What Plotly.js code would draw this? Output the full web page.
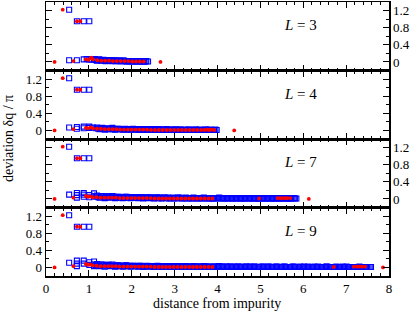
<!DOCTYPE html>
<html><head><meta charset="utf-8">
<script src="https://cdn.plot.ly/plotly-3.0.1.min.js"></script>
<style>body{margin:0;background:#fff}#chart{width:415px;height:312px}</style>
</head><body><div id="chart"></div>
<script>
// Panel labels (system size L)
const panelL = ['3', '4', '7', '9'];

// ---- L = 3 ----
const xB3 = [0.54,0.72,0.88,1.01, 0.54,0.72,0.88,0.95,1.01,1.06,
  1.12,1.17,1.22,1.27,1.32,1.37,1.42,1.47,1.52,1.57,1.62,1.67,1.72,1.77,1.82,1.87,1.92,1.97,2.02,2.07,2.12,2.17,2.22,2.27,2.32,2.38];
const yB3 = [1.22,0.95,0.95,0.95, 0.04,0.04,0.06,0.07,0.05,0.06,
  0.05,0.04,0.05,0.04,0.04,0.03,0.04,0.03,0.03,0.04,0.02,0.03,0.03,0.02,0.03,0.02,0.02,0.02,0.01,0.02,0.02,0.01,0.02,0.01,0.01,0.01];
const xB3b = [1.14,1.19,1.24,1.29,1.34,1.39,1.44,1.49,1.54,1.59,1.64,1.69,1.74,1.79,1.84,1.89,1.94,1.99,2.04,2.09,2.14,2.19,2.24,2.29,2.34];
const yB3b = [0.07,0.03,0.06,0.03,0.05,0.02,0.03,0.04,0.02,0.03,0.03,0.02,0.02,0.03,0.02,0.01,0.02,0.02,0.01,0.02,0.01,0.02,0.01,0.01,0.02];
const xR3 = [0.2,0.39,0.64,0.72,0.8,0.93,0.99,1.04,1.06,1.1,1.2,1.29,1.38,1.47,1.56,1.65,1.74,1.83,1.92,2.01,2.1,2.19,2.28,2.67];
const yR3 = [0,1.22,0.02,0.95,0.95,0.06,0.05,0.08,0.1,0.06,0.04,0.03,0.03,0.03,0.02,0.02,0.02,0.02,0.02,0.01,0.01,0.01,0.01,0];

// ---- L = 4 ----
const xB4 = [0.54,0.72,0.88,1.01, 0.54,0.72,0.72,0.88,0.88,1.01,1.01,1.1,
  1.16,1.22,1.28,1.34,1.40,1.46,1.52,1.58,1.64,1.70,1.76,1.82,1.88,1.94,2.00,2.06,2.12,2.18,2.24,2.30,
  2.36,2.42,2.48,2.54,2.60,2.66,2.72,2.78,2.84,2.90,2.96,3.02,3.08,3.14,3.20,3.26,3.32,3.38,3.44,3.50,
  3.56,3.62,3.68,3.74,3.80,3.86,3.92,3.98];
const yB4 = [1.22,0.95,0.95,0.95, 0.07,0.04,0.08,0.05,0.09,0.06,0.09,0.07,
  0.05,0.04,0.05,0.04,0.04,0.03,0.04,0.03,0.03,0.04,0.03,0.03,0.02,0.03,0.03,0.02,0.03,0.02,0.02,0.03,
  0.02,0.02,0.02,0.03,0.02,0.02,0.01,0.02,0.02,0.01,0.02,0.02,0.01,0.02,0.01,0.01,0.02,0.01,0.01,0.02,
  0.01,0.01,0.01,0.02,0.01,0.01,0.01,0.01];
const xB4b = [1.19,1.25,1.31,1.37,1.43,1.49,1.55,1.61,1.67,1.73,1.79,1.85,1.91,1.97,2.03,2.09,2.15,2.21,2.27,2.33,
  2.39,2.45,2.51,2.57,2.63,2.69,2.75,2.81,2.87,2.93,2.99,3.05,3.11,3.17,3.23,3.29,3.35,3.41,3.47,3.53,
  3.59,3.65,3.71,3.77,3.83,3.89,3.95];
const yB4b = [0.07,0.03,0.06,0.02,0.05,0.03,0.06,0.02,0.04,0.03,0.02,0.04,0.03,0.02,0.04,0.03,0.02,0.03,0.01,0.03,
  0.02,0.03,0.01,0.02,0.03,0.01,0.02,0.03,0.01,0.02,0.01,0.02,0.02,0.01,0.02,0.01,0.02,0.01,0.02,0.01,
  0.02,0.01,0.02,0.01,0.02,0.01,0.02];
const xR4 = [0.2,0.39,0.64,0.72,0.8,0.93,0.98,1.04,1.1,1.19,1.28,1.37,1.46,1.55,1.64,1.73,1.82,1.91,2.0,2.09,2.18,2.27,2.36,2.45,2.54,2.63,2.72,2.81,2.9,2.99,3.08,3.17,3.26,3.35,3.44,3.53,3.62,3.7,3.76,3.8,3.86,3.92,4.39];
const yR4 = [0,1.22,0.03,0.95,0.95,0.06,0.05,0.07,0.05,0.04,0.04,0.03,0.03,0.03,0.03,0.02,0.02,0.02,0.02,0.02,0.02,0.02,0.02,0.01,0.01,0.01,0.01,0.01,0.01,0.01,0.01,0.01,0.01,0.01,0.01,0.01,0.01,0.01,0.02,0.01,0.02,0.01,0];

// ---- L = 7 ----
const xB7 = [0.54,0.72,0.88,1.01, 0.54,0.72,0.72,0.72,0.88,0.88,0.88,1.01,1.01,1.12,1.12,
  1.16,1.22,1.28,1.34,1.40,1.46,1.52,1.58,1.64,1.70,1.76,1.82,1.88,1.94,2.00,2.06,2.12,2.18,2.24,2.30,
  2.36,2.42,2.48,2.54,2.60,2.66,2.72,2.78,2.84,2.90,2.96,3.02,3.08,3.14,3.20,3.26,3.32,3.38,3.44,3.50,
  3.56,3.62,3.68,3.74,3.80,3.86,3.92,3.98,4.04,4.10,4.16,4.22,4.28,4.34,4.40,4.46,4.52,4.58,4.64,4.70,
  4.76,4.82,4.88,4.94,5.00,5.06,5.12,5.18,5.24,5.30,5.36,5.42,5.48,5.54,5.60,5.66,5.72,5.78,5.84];
const yB7 = [1.22,0.95,0.95,0.95, 0.1,0.03,0.09,0.14,0.05,0.1,0.14,0.04,0.09,0.06,0.13,
  0.06,0.04,0.07,0.05,0.04,0.06,0.04,0.05,0.03,0.05,0.04,0.03,0.05,0.04,0.03,0.04,0.03,0.04,0.03,0.03,
  0.04,0.03,0.03,0.02,0.04,0.03,0.02,0.03,0.03,0.02,0.03,0.02,0.03,0.02,0.02,0.03,0.02,0.02,0.03,0.02,
  0.02,0.02,0.03,0.02,0.02,0.01,0.02,0.02,0.03,0.02,0.01,0.02,0.02,0.01,0.02,0.02,0.01,0.02,0.01,0.02,
  0.02,0.01,0.02,0.01,0.01,0.02,0.01,0.02,0.01,0.01,0.02,0.01,0.01,0.02,0.01,0.01,0.01,0.02,0.01];
const xB7b = [1.19,1.25,1.31,1.37,1.43,1.49,1.55,1.61,1.67,1.73,
  1.79,1.85,1.91,1.97,2.03,2.09,2.15,2.21,2.27,2.33,
  2.39,2.45,2.51,2.57,2.63,2.69,2.75,2.81,2.87,2.93,
  2.99,3.05,3.11,3.17,3.23,3.29,3.35,3.41,3.47,3.53,
  3.59,3.65,3.71,3.77,3.83,3.89,3.95,4.01,4.07,4.13,
  4.19,4.25,4.31,4.37,4.43,4.49,4.55,4.61,4.67,4.73,
  4.79,4.85,4.91,4.97,5.03,5.09,5.15,5.21,5.27,5.33,
  5.39,5.45,5.51,5.57,5.63,5.69,5.75,5.81];
const yB7b = [0.08,0.03,0.07,0.02,0.06,0.03,0.07,0.02,0.05,0.03,
  0.02,0.05,0.03,0.02,0.04,0.03,0.02,0.04,0.01,0.03,
  0.02,0.03,0.01,0.03,0.02,0.01,0.03,0.02,0.01,0.02,
  0.01,0.02,0.03,0.01,0.02,0.01,0.02,0.01,0.02,0.01,
  0.02,0.01,0.02,0.01,0.02,0.01,0.02,0.01,0.02,0.01,
  0.02,0.01,0.02,0.01,0.01,0.02,0.01,0.01,0.02,0.01,
  0.01,0.02,0.01,0.01,0.02,0.01,0.01,0.02,0.01,0.01,
  0.02,0.01,0.01,0.02,0.01,0.01,0.02,0.01];
const xR7 = [0.2,0.39,0.64,0.72,0.8,0.93,0.98,1.03,1.09,
  1.18,1.27,1.36,1.45,1.54,1.63,1.72,1.81,1.90,1.99,2.08,2.17,2.26,2.35,2.44,2.53,2.62,2.71,2.80,2.89,2.98,
  3.07,3.16,3.25,3.34,3.43,3.52,3.61,3.70,3.79,3.88,4.97,5.4,5.46,5.52,5.58,5.63,5.7,6.13];
const yR7 = [0,1.22,0.03,0.95,0.95,0.07,0.05,0.06,0.04,
  0.04,0.03,0.03,0.03,0.03,0.03,0.02,0.02,0.02,0.02,0.02,0.02,0.02,0.02,0.02,0.01,0.01,0.01,0.01,0.01,0.01,
  0.01,0.01,0.01,0.01,0.01,0.01,0.01,0.01,0.01,0.01,0.01,0.02,0.02,0.02,0.02,0.02,0.02,0];

// ---- L = 9 ----
const xB9 = [0.54,0.72,0.88,1.01, 0.54,0.72,0.72,0.72,0.88,0.88,1.01,1.01,1.12,1.12,1.12,
  1.16,1.22,1.28,1.34,1.40,1.46,1.52,1.58,1.64,1.70,1.76,1.82,1.88,1.94,2.00,2.06,2.12,2.18,2.24,2.30,
  2.36,2.42,2.48,2.54,2.60,2.66,2.72,2.78,2.84,2.90,2.96,3.02,3.08,3.14,3.20,3.26,3.32,3.38,3.44,3.50,
  3.56,3.62,3.68,3.74,3.80,3.86,3.92,3.98,4.04,4.10,4.16,4.22,4.28,4.34,4.40,4.46,4.52,4.58,4.64,4.70,
  4.76,4.82,4.88,4.94,5.00,5.06,5.12,5.18,5.24,5.30,5.36,5.42,5.48,5.54,5.60,5.66,5.72,5.78,5.84,5.90,
  5.96,6.02,6.08,6.14,6.20,6.26,6.32,6.38,6.44,6.50,6.56,6.62,6.68,6.74,6.80,6.86,6.92,6.98,7.04,7.10,
  7.16,7.22,7.28,7.34,7.40,7.46,7.52,7.58];
const yB9 = [1.22,0.95,0.95,0.95, 0.11,0.03,0.09,0.16,0.09,0.16,0.06,0.12,0.03,0.07,0.14,
  0.06,0.04,0.07,0.05,0.04,0.06,0.04,0.05,0.03,0.05,0.04,0.03,0.05,0.04,0.03,0.04,0.03,0.04,0.03,0.03,
  0.04,0.03,0.03,0.02,0.04,0.03,0.02,0.03,0.03,0.02,0.03,0.02,0.03,0.02,0.02,0.03,0.02,0.02,0.03,0.02,
  0.02,0.02,0.03,0.02,0.02,0.01,0.02,0.02,0.03,0.02,0.01,0.02,0.02,0.01,0.02,0.02,0.01,0.02,0.01,0.02,
  0.02,0.01,0.02,0.01,0.01,0.02,0.01,0.02,0.01,0.01,0.02,0.01,0.01,0.02,0.01,0.01,0.01,0.02,0.01,0.01,
  0.01,0.02,0.01,0.01,0.01,0.02,0.01,0.01,0.01,0.01,0.02,0.01,0.01,0.01,0.01,0.01,0.02,0.01,0.01,0.01,
  0.01,0.01,0.01,0.01,0.01,0.01,0.01,0.01];
const xB9b = [1.19,1.25,1.31,1.37,1.43,1.49,1.55,1.61,1.67,1.73,
  1.79,1.85,1.91,1.97,2.03,2.09,2.15,2.21,2.27,2.33,
  2.39,2.45,2.51,2.57,2.63,2.69,2.75,2.81,2.87,2.93,
  2.99,3.05,3.11,3.17,3.23,3.29,3.35,3.41,3.47,3.53,
  3.59,3.65,3.71,3.77,3.83,3.89,3.95,4.01,4.07,4.13,
  4.19,4.25,4.31,4.37,4.43,4.49,4.55,4.61,4.67,4.73,
  4.79,4.85,4.91,4.97,5.03,5.09,5.15,5.21,5.27,5.33,
  5.39,5.45,5.51,5.57,5.63,5.69,5.75,5.81,5.87,5.93,
  5.99,6.05,6.11,6.17,6.23,6.29,6.35,6.41,6.47,6.53,
  6.59,6.65,6.71,6.77,6.83,6.89,6.95,7.01,7.07,7.13,
  7.19,7.25,7.31,7.37,7.43,7.49,7.55];
const yB9b = [0.08,0.03,0.07,0.02,0.06,0.03,0.07,0.02,0.05,0.03,
  0.02,0.05,0.03,0.02,0.04,0.03,0.02,0.04,0.01,0.03,
  0.02,0.03,0.01,0.03,0.02,0.01,0.03,0.02,0.01,0.02,
  0.01,0.02,0.03,0.01,0.02,0.01,0.02,0.01,0.02,0.01,
  0.02,0.01,0.02,0.01,0.02,0.01,0.02,0.01,0.02,0.01,
  0.02,0.01,0.02,0.01,0.01,0.02,0.01,0.01,0.02,0.01,
  0.01,0.02,0.01,0.01,0.02,0.01,0.01,0.02,0.01,0.01,
  0.02,0.01,0.01,0.02,0.01,0.01,0.02,0.01,0.01,0.02,
  0.01,0.01,0.02,0.01,0.01,0.01,0.02,0.01,0.01,0.02,
  0.01,0.01,0.01,0.02,0.01,0.01,0.01,0.02,0.01,0.01,
  0.01,0.01,0.02,0.01,0.01,0.01,0.01];
const xR9 = [0.2,0.39,0.64,0.72,0.8,0.93,0.98,1.03,1.09,
  1.18,1.27,1.36,1.45,1.54,1.63,1.72,1.81,1.90,1.99,2.08,2.17,2.26,2.35,2.44,2.53,2.62,2.71,2.80,2.89,2.98,
  3.07,3.16,3.25,3.34,3.43,3.52,3.61,3.70,3.79,3.88,6.71,7.18,7.25,7.31,7.37,7.44,7.86];
const yR9 = [0,1.22,0.03,0.95,0.95,0.08,0.06,0.07,0.05,
  0.04,0.03,0.03,0.03,0.03,0.03,0.02,0.02,0.02,0.02,0.02,0.02,0.02,0.02,0.02,0.01,0.01,0.01,0.01,0.01,0.01,
  0.01,0.01,0.01,0.01,0.01,0.01,0.01,0.01,0.01,0.01,0.01,0.02,0.02,0.02,0.02,0.02,0];

const blues = [[xB3.concat(xB3b), yB3.concat(yB3b)], [xB4.concat(xB4b), yB4.concat(yB4b)],
               [xB7.concat(xB7b), yB7.concat(yB7b)], [xB9.concat(xB9b), yB9.concat(yB9b)]];
const reds = [[xR3,yR3],[xR4,yR4],[xR7,yR7],[xR9,yR9]];

const FONT = 'Liberation Serif, Times New Roman, serif';
const traces = [];
for (let i = 0; i < 4; i++) {
  const s = i === 0 ? '' : String(i + 1);
  traces.push({x: blues[i][0], y: blues[i][1], xaxis: 'x' + s, yaxis: 'y' + s, type: 'scatter', mode: 'markers',
    marker: {symbol: 'square-open', size: 5, color: 'rgb(0,0,255)', line: {width: 1.1, color: 'rgb(0,0,255)'}},
    showlegend: false, hoverinfo: 'skip'});
  traces.push({x: reds[i][0], y: reds[i][1], xaxis: 'x' + s, yaxis: 'y' + s, type: 'scatter', mode: 'markers',
    marker: {symbol: 'circle', size: 3.8, color: 'rgb(255,0,0)', line: {width: 0}},
    showlegend: false, hoverinfo: 'skip'});
}

function xa(i) {
  const s = i === 0 ? '' : String(i + 1);
  return {anchor: 'y' + s, domain: [0, 1], range: [0, 8], tick0: 0, dtick: 1,
    ticks: 'inside', ticklen: 6, tickwidth: 1, tickcolor: '#000',
    minor: {dtick: 0.2, tick0: 0, ticks: 'inside', ticklen: 3, tickwidth: 1, tickcolor: '#000'},
    showline: true, linecolor: '#000', linewidth: 1.5, mirror: 'allticks',
    showgrid: false, zeroline: false, showticklabels: i === 3,
    tickfont: {family: FONT, size: 13, color: '#000'}};
}
function ya(i) {
  const s = i === 0 ? '' : String(i + 1);
  const doms = [[0.75, 1], [0.5, 0.75], [0.25, 0.5], [0, 0.25]];
  return {anchor: 'x' + s, domain: doms[i], range: [-0.2, 1.4], tick0: 0, dtick: 0.4,
    side: (i % 2 === 0) ? 'right' : 'left',
    ticks: 'inside', ticklen: 6, tickwidth: 1, tickcolor: '#000',
    minor: {dtick: 0.2, tick0: 0, ticks: 'inside', ticklen: 3, tickwidth: 1, tickcolor: '#000'},
    showline: true, linecolor: '#000', linewidth: 1.5, mirror: 'allticks',
    showgrid: false, zeroline: false,
    tickfont: {family: FONT, size: 13, color: '#000'}};
}

const layout = {
  width: 415, height: 312,
  margin: {l: 46, r: 26, t: 2, b: 36},
  paper_bgcolor: '#fff', plot_bgcolor: '#fff',
  annotations: [],
  font: {family: FONT, color: '#000'}
};
for (let i = 0; i < 4; i++) {
  const s = i === 0 ? '' : String(i + 1);
  layout['xaxis' + s] = xa(i);
  layout['yaxis' + s] = ya(i);
  layout.annotations.push({text: '<i>L</i> = ' + panelL[i], xref: 'paper', yref: 'paper',
    x: 0.743, y: 1 - 0.25 * i, yshift: -23, xanchor: 'center', yanchor: 'middle', showarrow: false,
    font: {family: FONT, size: 15, color: '#000'}});
}
layout.annotations.push({text: 'deviation δq / π', xref: 'paper', yref: 'paper', x: 0, y: 0.5,
  xshift: -38, textangle: -90, xanchor: 'center', yanchor: 'middle', showarrow: false,
  font: {family: FONT, size: 14, color: '#000'}});
layout.annotations.push({text: 'distance from impurity', xref: 'paper', yref: 'paper', x: 0.5, y: 0,
  xshift: -1, yshift: -27, xanchor: 'center', yanchor: 'middle', showarrow: false,
  font: {family: FONT, size: 14, color: '#000'}});

Plotly.newPlot('chart', traces, layout, {staticPlot: true, displayModeBar: false});
</script>
</body></html>
